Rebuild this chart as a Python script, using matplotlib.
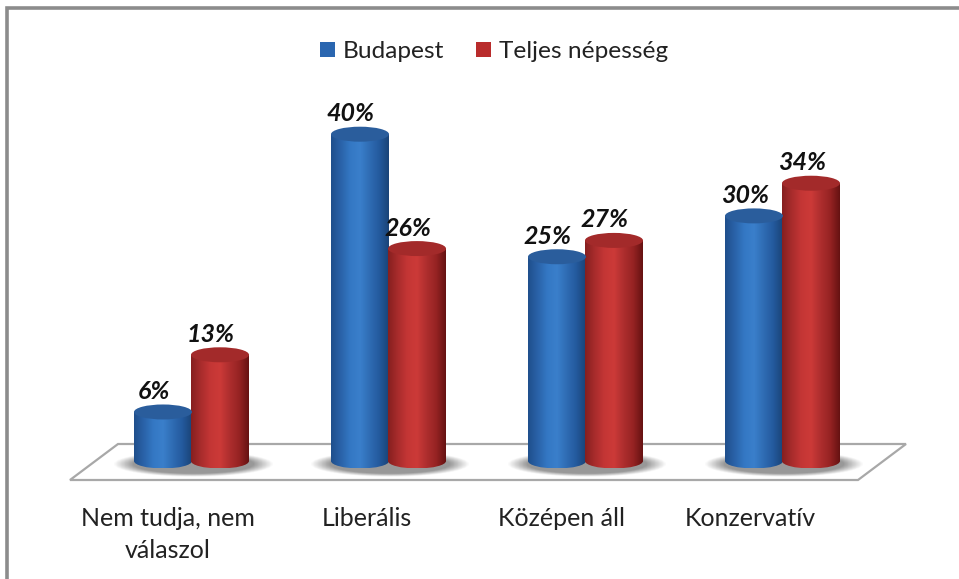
import numpy as np
import matplotlib
matplotlib.use("Agg")
import matplotlib.pyplot as plt
from matplotlib.patches import Ellipse, Polygon, Patch, PathPatch
from matplotlib.path import Path
from matplotlib.colors import LinearSegmentedColormap

categories = ["Nem tudja, nem\nválaszol", "Liberális", "Középen áll", "Konzervatív"]
budapest = [6, 40, 25, 30]
teljes = [13, 26, 27, 34]
series_names = ["Budapest", "Teljes népesség"]

W, H = 959, 579
BASE_PX = 461
X0_PX = 191.5
GROUP_PX = 197.0
UNIT_PX = 8.17

# category labels do not sit centred under their groups in the original
label_dx = [-0.122, -0.112, -0.124, -0.165]

plt.rcParams['font.family'] = ['Lato', 'DejaVu Sans']

fig = plt.figure(figsize=(W / 100, H / 100), dpi=100)
ax = fig.add_axes([0, 0, 1, 1])
# axes fill the figure, one x unit = one category, one y unit = one percent
ax.set_xlim(-X0_PX / GROUP_PX, (W - X0_PX) / GROUP_PX)
ax.set_ylim(-(H - BASE_PX) / UNIT_PX, BASE_PX / UNIT_PX)
ax.axis("off")


def px(x, y):
    return (x - X0_PX) / GROUP_PX, (BASE_PX - y) / UNIT_PX


def cylinder(xc, val, w, eh, cmap, top_col):
    left, right = xc - w / 2, xc + w / 2
    # body: straight sides with a rounded bottom
    k = 0.5523
    verts = [(left, val), (left, 0),
             (left, -eh / 2 * k), (xc - w / 2 * k, -eh / 2), (xc, -eh / 2),
             (xc + w / 2 * k, -eh / 2), (right, -eh / 2 * k), (right, 0),
             (right, val), (left, val)]
    codes = [Path.MOVETO, Path.LINETO, Path.CURVE4, Path.CURVE4, Path.CURVE4,
             Path.CURVE4, Path.CURVE4, Path.CURVE4, Path.LINETO, Path.CLOSEPOLY]
    clip = PathPatch(Path(verts, codes), fc="none", ec="none", zorder=3)
    ax.add_patch(clip)
    grad = np.linspace(0, 1, 200).reshape(1, -1)
    im = ax.imshow(grad, extent=(left, right, -eh / 2, val), cmap=cmap, aspect="auto",
                   zorder=3, vmin=0, vmax=1)
    im.set_clip_path(clip)
    ax.add_patch(Ellipse((xc, val), w, eh, fc=top_col, ec="none", zorder=4))


def shadow(xc, w, h):
    # blurred grey blob on the floor
    xx, yy = np.meshgrid(np.linspace(-1, 1, 120), np.linspace(-1, 1, 40))
    r = np.sqrt(xx ** 2 + yy ** 2)
    rgba = np.zeros(r.shape + (4,))
    rgba[..., :3] = 0.55
    rgba[..., 3] = np.clip((1 - r) * 4, 0, 1) * 0.9
    ax.imshow(rgba, extent=(xc - w / 2, xc + w / 2, -0.4 - h / 2, -0.4 + h / 2), aspect="auto", zorder=2)


blue = LinearSegmentedColormap.from_list("b", ["#1f4f8c", "#2a62a8", "#3478c4", "#3a7fcb", "#2f6cb4", "#245a9e", "#1a4478"])
red = LinearSegmentedColormap.from_list("r", ["#861f1f", "#a82c2c", "#c43635", "#cc3a38", "#ae2e2e", "#962323", "#661212"])

# frame, only top and left as in the screenshot
ax.plot(*zip(px(7, 579), px(7, 8), px(959, 8)), color="#8c8c8c", lw=2.6, solid_joinstyle="miter", zorder=1)

# floor
floor = [px(70, 480), px(118, 444), px(906, 444), px(858, 480)]
ax.add_patch(Polygon(floor, closed=True, fc="white", ec="#a8a8a8", lw=1.6, zorder=1))

bw = 58 / GROUP_PX
off = 28.5 / GROUP_PX
eh = 15 / UNIT_PX

for i in range(len(categories)):
    shadow(i + 0.01, 160 / GROUP_PX, 26 / UNIT_PX)
    cylinder(i - off, budapest[i], bw, eh, blue, "#2a5d9c")
    cylinder(i + off, teljes[i], bw, eh, red, "#a32a2a")
    ax.text(i - off - 0.047, budapest[i] + 1.1, f"{budapest[i]}%", ha="center", va="bottom",
            fontsize=18, fontweight="bold", fontstyle="italic", color="#111111", zorder=5)
    ax.text(i + off - 0.047, teljes[i] + 1.1, f"{teljes[i]}%", ha="center", va="bottom",
            fontsize=18, fontweight="bold", fontstyle="italic", color="#111111", zorder=5)
    ax.text(i + label_dx[i], -5.6, categories[i], ha="center", va="top", fontsize=18,
            color="#222222", linespacing=1.5, zorder=5)

handles = [Patch(fc="#2a66b0", ec="none"), Patch(fc="#b92c2c", ec="none")]
ax.legend(handles, series_names, loc="upper center", bbox_to_anchor=(0.515, 0.967), ncol=2,
          frameon=False, fontsize=17.6, handlelength=0.62, handleheight=0.62,
          handletextpad=0.33, columnspacing=1.3, labelcolor="#222222")

fig.savefig("out.png", dpi=100)
